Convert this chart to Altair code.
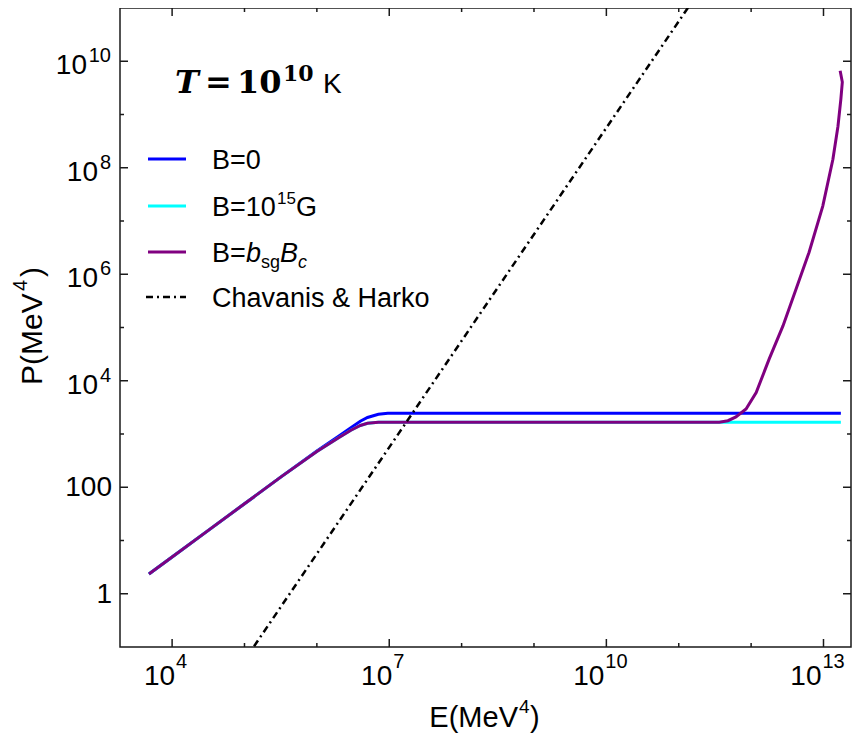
import altair as alt
import pandas as pd

# ---------------- data (log10 values) ----------------
B0_LOGE = [3.68, 4.0, 4.5, 5.0, 5.5, 6.0, 6.3, 6.47, 6.6, 6.7, 6.85, 6.98, 8.0, 10.0, 12.0, 13.24]
B0_LOGP = [0.37, 0.69, 1.19, 1.69, 2.19, 2.68, 2.96, 3.12, 3.24, 3.31, 3.37, 3.39, 3.39, 3.39, 3.39, 3.39]

B15_LOGE = [3.68, 4.0, 4.5, 5.0, 5.5, 6.0, 6.3, 6.47, 6.6, 6.7, 6.85, 7.0, 9.0, 11.0, 13.24]
B15_LOGP = [0.37, 0.69, 1.19, 1.69, 2.19, 2.67, 2.93, 3.07, 3.16, 3.20, 3.22, 3.22, 3.22, 3.22, 3.22]

BSG_LOGE = [3.68, 4.0, 4.5, 5.0, 5.5, 6.0, 6.3, 6.47, 6.6, 6.7, 6.85, 7.0, 9.0, 11.0, 11.56,
            11.68, 11.79, 11.93, 12.07, 12.25, 12.44, 12.62, 12.80, 12.99, 13.13, 13.20,
            13.24, 13.26, 13.23]
BSG_LOGP = [0.37, 0.69, 1.19, 1.69, 2.19, 2.67, 2.93, 3.07, 3.16, 3.20, 3.22, 3.22, 3.22, 3.22, 3.22,
            3.25, 3.32, 3.47, 3.78, 4.41, 5.03, 5.72, 6.41, 7.28, 8.16, 8.78,
            9.29, 9.61, 9.82]

CH_LOGE = [5.0, 11.25]
CH_LOGP = [-1.25, 11.25]

X_MAJOR_EXP = [4, 7, 10, 13]
X_MINOR_EXP = [5, 6, 8, 9, 11, 12]
Y_MAJOR_EXP = [0, 2, 4, 6, 8, 10]
Y_MINOR_EXP = [1, 3, 5, 7, 9]

COLORS = {"B=0": "#0000ff", "B=1e15G": "#00ffff", "B=bsgBc": "#800080", "CH": "#000000"}

# ---------------- styling ----------------
W, H = 731, 639
SANS = "Liberation Sans"
SERIF = "DejaVu Serif"
FRAME = "#1a1a1a"

XS = alt.Scale(type="log", domain=[10 ** 3.28, 10 ** 13.38], nice=False)
YS = alt.Scale(type="log", domain=[10 ** -1, 10 ** 11], nice=False)

ANCHOR = pd.DataFrame({"k": [0]})


def series_df(loge, logp):
    return pd.DataFrame({"i": list(range(len(loge))),
                         "E": [10 ** v for v in loge],
                         "P": [10 ** v for v in logp]})


def line(df, color, dash=None, width=3):
    kw = dict(color=color, strokeWidth=width, clip=True)
    if dash:
        kw["strokeDash"] = dash
    return alt.Chart(df).mark_line(**kw).encode(
        x=alt.X("E:Q", scale=XS, axis=None),
        y=alt.Y("P:Q", scale=YS, axis=None),
        order=alt.Order("i:Q"),
    )


def txt(s, x, y, size, font=SANS, style="normal", weight="normal",
        align="left", baseline="alphabetic", angle=0):
    return alt.Chart(ANCHOR).mark_text(
        text=s, font=font, fontSize=size, fontStyle=style, fontWeight=weight,
        align=align, baseline=baseline, angle=angle, color="black"
    ).encode(x=alt.value(x), y=alt.value(y))


def xticks(exps, y0, y1):
    d = pd.DataFrame({"E": [10 ** e for e in exps]})
    return alt.Chart(d).mark_rule(color=FRAME, strokeWidth=1.5).encode(
        x=alt.X("E:Q", scale=XS, axis=None), y=alt.value(y0), y2=alt.value(y1))


def yticks(exps, x0, x1):
    d = pd.DataFrame({"P": [10 ** e for e in exps]})
    return alt.Chart(d).mark_rule(color=FRAME, strokeWidth=1.5).encode(
        y=alt.Y("P:Q", scale=YS, axis=None), x=alt.value(x0), x2=alt.value(x1))


def xlabels(exps, base_dx, exp_dx):
    d = pd.DataFrame({"E": [10 ** e for e in exps], "exp": [str(e) for e in exps]})
    base = alt.Chart(d).mark_text(text="10", font=SANS, fontSize=28, align="right",
                                  baseline="alphabetic", dx=base_dx, color="black").encode(
        x=alt.X("E:Q", scale=XS, axis=None), y=alt.value(H + 38))
    sup = alt.Chart(d).mark_text(font=SANS, fontSize=20, align="left",
                                 baseline="alphabetic", dx=exp_dx, color="black").encode(
        x=alt.X("E:Q", scale=XS, axis=None), y=alt.value(H + 21), text="exp:N")
    return [base, sup]


def ybase(exps, x, dy, text=None):
    d = pd.DataFrame({"P": [10 ** e for e in exps],
                      "lab": [text if text else ("1" if e == 0 else "100") for e in exps]})
    return alt.Chart(d).mark_text(font=SANS, fontSize=28, align="right",
                                  baseline="alphabetic", dy=dy, color="black").encode(
        y=alt.Y("P:Q", scale=YS, axis=None), x=alt.value(x), text="lab:N")


layers = []

# data lines
layers.append(line(series_df(B0_LOGE, B0_LOGP), COLORS["B=0"]))
layers.append(line(series_df(B15_LOGE, B15_LOGP), COLORS["B=1e15G"]))
layers.append(line(series_df(BSG_LOGE, BSG_LOGP), COLORS["B=bsgBc"]))
layers.append(line(series_df(CH_LOGE, CH_LOGP), COLORS["CH"], dash=[7, 4, 2, 4], width=2.5))

# inward ticks on all four sides
layers += [xticks(X_MAJOR_EXP, H, H - 8), xticks(X_MINOR_EXP, H, H - 4),
           xticks(X_MAJOR_EXP, 0, 8), xticks(X_MINOR_EXP, 0, 4),
           yticks(Y_MAJOR_EXP, 0, 8), yticks(Y_MINOR_EXP, 0, 4),
           yticks(Y_MAJOR_EXP, W, W - 8), yticks(Y_MINOR_EXP, W, W - 4)]

# x tick labels (10^n)
layers += xlabels([e for e in X_MAJOR_EXP if e < 10], 3, 4)
layers += xlabels([e for e in X_MAJOR_EXP if e >= 10], -2, -1)

# y tick labels
plain = [e for e in Y_MAJOR_EXP if e < 4]
one = [e for e in Y_MAJOR_EXP if 4 <= e < 10]
two = [e for e in Y_MAJOR_EXP if e >= 10]
layers.append(ybase(plain, -8, 9))
layers.append(ybase(one, -22, 13, "10"))
layers.append(ybase(two, -33, 13, "10"))
dexp = pd.DataFrame({"P": [10 ** e for e in one + two], "exp": [str(e) for e in one + two]})
layers.append(alt.Chart(dexp).mark_text(font=SANS, fontSize=20, align="right",
                                        baseline="alphabetic", dy=1, color="black").encode(
    y=alt.Y("P:Q", scale=YS, axis=None), x=alt.value(-9), text="exp:N"))

# axis titles
layers += [txt("E(MeV", 398, H + 80, 29, align="right"),
           txt("4", 399, H + 66, 19),
           txt(")", 410, H + 80, 29)]
layers += [txt("P(MeV", -78, 377, 30, angle=270),
           txt("4", -93, 283, 20, angle=270),
           txt(")", -78, 269, 30, angle=270)]

# temperature annotation
layers += [txt("T", 55, 85, 32, font=SERIF, style="italic", weight="bold"),
           txt("=", 85, 85, 32, font=SERIF, weight="bold"),
           txt("10", 117, 85, 32, font=SERIF, weight="bold"),
           txt("10", 163, 73, 22, font=SERIF, weight="bold"),
           txt("K", 203, 85, 28)]

# legend
LEG_Y = [151, 198, 244, 289]
LEG_COL = [COLORS["B=0"], COLORS["B=1e15G"], COLORS["B=bsgBc"]]
for yy, col in zip(LEG_Y[:3], LEG_COL):
    layers.append(alt.Chart(ANCHOR).mark_rule(color=col, strokeWidth=3).encode(
        x=alt.value(28), x2=alt.value(66), y=alt.value(yy)))
layers.append(alt.Chart(ANCHOR).mark_rule(color="black", strokeWidth=2.5,
                                          strokeDash=[7, 4, 2, 4]).encode(
    x=alt.value(26), x2=alt.value(66), y=alt.value(LEG_Y[3])))

TB = 10  # baseline offset of legend text relative to its sample line
layers += [txt("B=0", 92, LEG_Y[0] + TB, 27),
           txt("B=10", 92, LEG_Y[1] + TB, 27),
           txt("15", 157, LEG_Y[1] - 2, 17),
           txt("G", 176, LEG_Y[1] + TB, 27),
           txt("B=", 92, LEG_Y[2] + TB, 27),
           txt("b", 126, LEG_Y[2] + TB, 27, style="italic"),
           txt("sg", 141, LEG_Y[2] + TB + 6, 18),
           txt("B", 160, LEG_Y[2] + TB, 27, style="italic"),
           txt("c", 178, LEG_Y[2] + TB + 6, 18, style="italic"),
           txt("Chavanis & Harko", 92, LEG_Y[3] + TB, 27)]

chart = alt.layer(*layers).properties(
    width=W, height=H,
    autosize=alt.AutoSizeParams(type="none"),
    padding={"left": 112, "top": 0, "right": 1, "bottom": 89},
    background="white",
).configure_view(stroke=FRAME, strokeWidth=1.5)

chart.save("out.html", embed_options={"renderer": "svg", "actions": False})
